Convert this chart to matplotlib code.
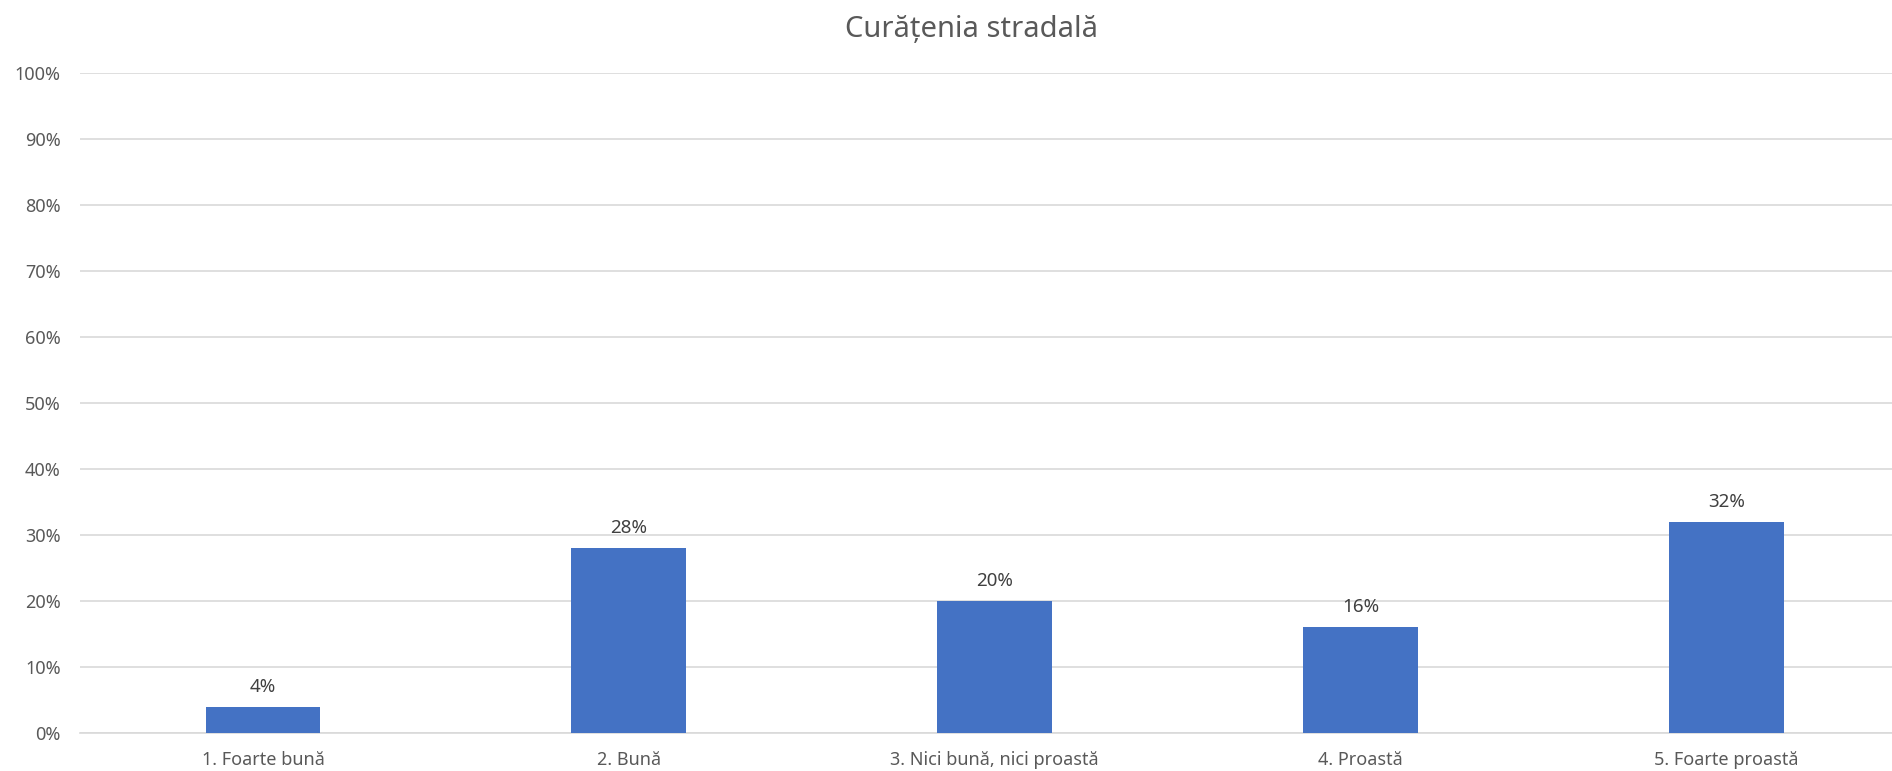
import matplotlib.pyplot as plt
from matplotlib.ticker import PercentFormatter

categories = ['1. Foarte bună', '2. Bună', '3. Nici bună, nici proastă', '4. Proastă', '5. Foarte proastă']
values = [4, 28, 20, 16, 32]
title = 'Curățenia stradală'

plt.rcParams['font.family'] = ['Noto Sans', 'DejaVu Sans']

fig = plt.figure(figsize=(18.92, 7.71), dpi=100)
# axes runs slightly past the right edge, like the original
ax = fig.add_axes([80 / 1892, 38 / 771, 1829.5 / 1892, 660 / 771])

x = range(len(categories))
bars = ax.bar(x, values, width=0.314, color='#4472C4', zorder=3)
for b, v in zip(bars, values):
    ax.annotate(f'{v}%', (b.get_x() + b.get_width() / 2, v), xytext=(0, 10.8),
                textcoords='offset points', ha='center', va='baseline',
                fontsize=13.5, color='#404040')

ax.set_xlim(-0.5, len(categories) - 0.5)
ax.set_ylim(0, 100)
ax.set_yticks(range(0, 101, 10))
ax.yaxis.set_major_formatter(PercentFormatter(decimals=0))
ax.set_xticks(list(x))
ax.set_xticklabels(categories)
ax.tick_params(axis='both', length=0, labelsize=13, labelcolor='#595959')
ax.tick_params(axis='y', pad=14)
ax.tick_params(axis='x', pad=13)
ax.grid(axis='y', color='#D9D9D9', linewidth=1.2, zorder=0)
for s in ['top', 'right', 'left']:
    ax.spines[s].set_visible(False)
ax.spines['bottom'].set_color('#D9D9D9')
ax.spines['bottom'].set_linewidth(1.2)

fig.text(971 / 1892, 1 - 37 / 771, title, ha='center', va='baseline',
         fontsize=21, color='#595959')

fig.savefig('out.png', dpi=100)
